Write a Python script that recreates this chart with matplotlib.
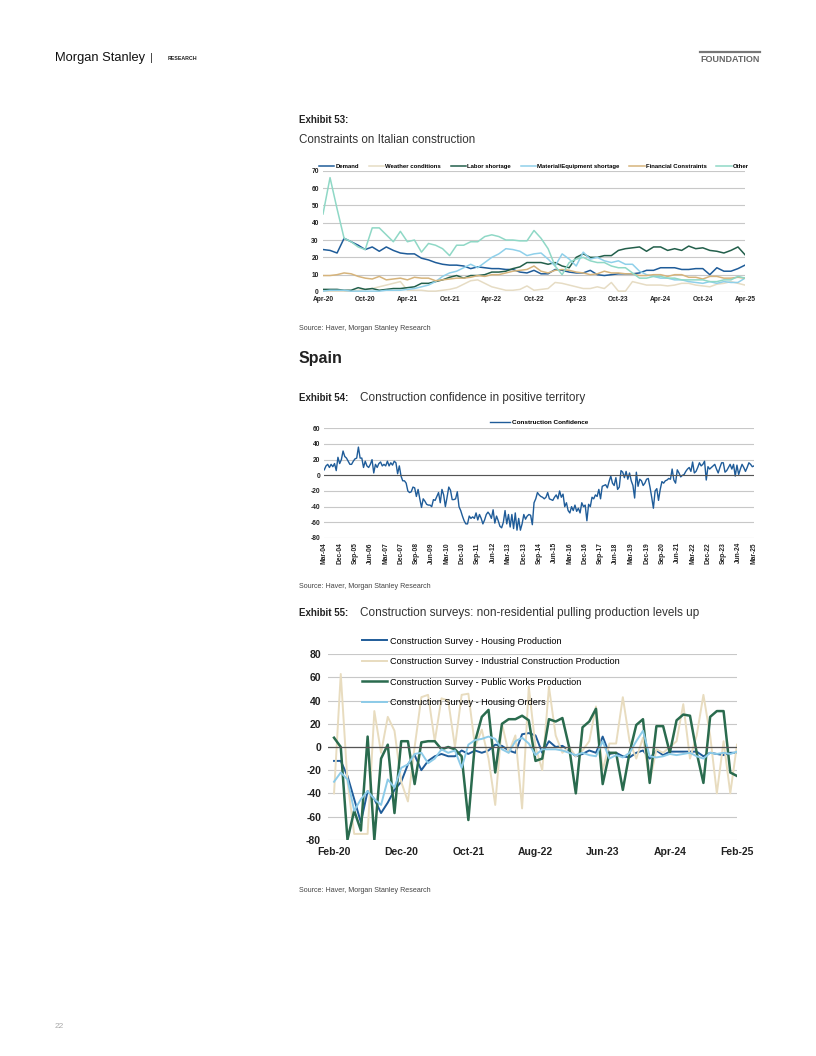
import numpy as np
import matplotlib
matplotlib.use("Agg")
import matplotlib.pyplot as plt

plt.rcParams['font.family'] = ['Liberation Sans', 'DejaVu Sans']
plt.rcParams['axes.unicode_minus'] = False

# ---------------- Exhibit 53: Italian construction constraints (monthly Apr-20 .. Apr-25)
it_ticks = ["Apr-20", "Oct-20", "Apr-21", "Oct-21", "Apr-22", "Oct-22",
            "Apr-23", "Oct-23", "Apr-24", "Oct-24", "Apr-25"]
demand = [24.5, 24, 22.5, 31, 29, 27, 24.5, 26, 23.5, 26, 24, 22.5, 22, 22, 19.5, 18.5,
          17, 16, 15.5, 15.5, 15, 13.5, 14.5, 14, 13.5, 13.5, 13, 13, 11.5, 11, 12.5,
          10.5, 10.5, 13, 12.5, 11.5, 11, 11, 12.5, 10, 9.5, 10, 10.5, 10.5, 10.5, 11,
          12.5, 12.5, 14, 14, 14, 13, 13, 13.5, 13.5, 10, 14, 12, 12, 13.5, 15.5]
weather = [0.5, 0.5, 0.5, 0.5, 0.5, 1, 1.5, 2, 3, 4, 5, 6, 1, 1, 1, 0.5, 0.5, 1, 1.5,
           2.5, 4.5, 6.5, 7, 5, 3, 2, 1, 1, 1.5, 3.5, 1, 1.5, 2, 5.5, 5, 4, 3, 2, 2, 3,
           2, 5.5, 0.5, 0.5, 6, 5, 4, 4, 4, 3.5, 4, 5, 5, 4, 3.5, 3, 4.5, 5, 6, 5, 4]
labor = [1.5, 1.5, 1.5, 1, 1, 2.5, 1.5, 2, 1, 1.5, 2, 2, 2.5, 3, 5, 5, 6, 7, 8.5,
         9.5, 8, 9.5, 9.5, 10, 11.5, 11.5, 12, 13.5, 14.5, 17, 17, 17, 16, 17, 15, 14,
         20, 22, 20, 20, 21, 21, 24, 25, 25.5, 26, 23.5, 26, 26, 24, 25, 24, 26.5, 25,
         25.5, 24, 23.5, 22.5, 24, 26, 21.5]
material = [0.5, 1, 1, 1, 0.5, 0.5, 0.5, 0.5, 0.5, 1, 1, 1, 1.5, 2, 3, 4, 6, 9, 11,
            12, 14, 16, 14, 17, 20, 22, 25, 24.5, 23.5, 21, 22, 22.5, 19, 15, 22, 19,
            15, 23, 19, 20, 18, 17, 18, 16, 16, 12, 10, 9, 8, 8, 7, 7, 6, 5.5, 5, 6, 5,
            6, 5.5, 5.5, 8]
financial = [9.5, 9.5, 10, 11, 10.5, 9, 8, 7.5, 9, 7, 7.5, 8, 7, 8.5, 8, 8, 6.5, 7,
             7.5, 8, 8, 8.5, 9.5, 9, 10, 10, 11, 12, 12.5, 13, 15, 12, 11, 12.5, 13,
             12.5, 11.5, 11, 10, 10.5, 12, 11, 11, 10.5, 10.5, 9.5, 9.5, 10, 10, 9, 10,
             10, 8.5, 8.5, 7.5, 9, 9, 8, 8, 8.5, 8]
other = [45, 66, 48, 31, 29, 26, 24.5, 37, 37, 33, 29, 35, 29, 30, 23, 28, 27, 25, 21,
         27, 27, 29, 29, 32, 33, 32, 30, 30, 29.5, 29.5, 35.5, 31, 25, 15, 10, 17, 19,
         20, 18, 17, 17, 15, 14, 14, 11, 8, 8, 9, 9, 8, 8, 7, 7, 7, 7, 6, 6, 7, 7, 9, 8]
it_series = [("Demand", demand, "#1f5c99"),
             ("Weather conditions", weather, "#e6dcc4"),
             ("Labor shortage", labor, "#235f4b"),
             ("Material/Equipment shortage", material, "#8fd0ea"),
             ("Financial Constraints", financial, "#d6b47c"),
             ("Other", other, "#8fd8c6")]

# ---------------- Exhibit 54: Spain construction confidence (monthly Mar-04 .. Mar-25)
es_ticks = ["Mar-04", "Dec-04", "Sep-05", "Jun-06", "Mar-07", "Dec-07", "Sep-08", "Jun-09",
            "Mar-10", "Dec-10", "Sep-11", "Jun-12", "Mar-13", "Dec-13", "Sep-14", "Jun-15",
            "Mar-16", "Dec-16", "Sep-17", "Jun-18", "Mar-19", "Dec-19", "Sep-20", "Jun-21",
            "Mar-22", "Dec-22", "Sep-23", "Jun-24", "Mar-25"]
confidence = (
    [7, 12, 14, 10, 14, 11, 15, 6, 23, 15] +                          # 2004
    [20, 31, 24, 22, 18, 14, 14, 18, 21, 22, 36, 22] +                # 2005
    [22, 10, 18, 12, 10, 14, 20, 3, 14, 10, 15, 17] +                 # 2006
    [12, 14, 12, 18, 12, 16, 13, 18, 16, 2, 12, -1] +                 # 2007
    [-7, -7, -10, -20, -22, -21, -15, -16, -27, -18, -30, -41] +      # 2008
    [-30, -33, -37, -38, -38, -40, -31, -32, -27, -22, -35, -18] +    # 2009
    [-25, -40, -28, -15, -19, -31, -31, -30, -21, -40, -45, -52] +    # 2010
    [-58, -62, -62, -52, -55, -53, -55, -48, -57, -50, -55, -62] +    # 2011
    [-57, -50, -47, -50, -55, -44, -61, -52, -58, -65, -67, -60] +    # 2012
    [-45, -62, -50, -66, -50, -68, -48, -70, -55, -70, -62, -50] +    # 2013
    [-56, -52, -50, -51, -63, -35, -30, -22, -25, -27, -28, -30] +    # 2014
    [-28, -22, -30, -31, -32, -28, -25, -30, -20, -28, -24, -40] +    # 2015
    [-35, -45, -48, -40, -45, -38, -46, -42, -48, -35, -40, -38] +    # 2016
    [-58, -37, -40, -28, -30, -25, -27, -18, -30, -14, -13, -12] +    # 2017
    [-16, -8, -1, -10, -13, -3, -18, -15, 6, 4, -3, 5] +              # 2018
    [-5, 3, -7, -13, -29, 4, -14, -5, -7, -13, -10, -5] +             # 2019
    [-4, -15, -28, -42, -20, -17, -32, -18, -8, -10, -7, -6] +        # 2020
    [-4, -5, 8, -6, -10, 7, 3, -2, 0, 1, 5, 8] +                      # 2021
    [10, 5, 17, 3, 5, 10, 16, 12, 14, 18, -6, 11] +                   # 2022
    [8, 10, 12, 14, 8, 3, 10, 16, 16, 4, 6, 10] +                     # 2023
    [14, 8, 14, -1, 13, 1, 8, 14, 10, 5, 10, 16] +                    # 2024
    [14, 11, 12]                                                      # 2025
)

# ---------------- Exhibit 55: Spain construction surveys (monthly Feb-20 .. Feb-25)
sv_ticks = ["Feb-20", "Dec-20", "Oct-21", "Aug-22", "Jun-23", "Apr-24", "Feb-25"]
housing_prod = [-12, -12, -25, -45, -65, -38, -45, -57, -48, -37, -30, -15, -7, -20, -12,
                -8, -6, -8, -8, -3, -6, -3, -5, -3, 2, 1, -3, -5, 11, 12, 10, -5, 5, 0,
                1, -3, -8, -6, -3, -5, 9, -6, -5, -8, -9, -5, -3, -10, -3, -7, -4, -4,
                -4, -4, -4, -8, -5, -6, -7, -5, -5]
industrial = [-40, 63, -30, -75, -75, -75, 31, -5, 26, 14, -30, -47, 0, 43, 45, 5, 42,
              40, 0, 45, 46, 0, 15, -10, -50, 20, -5, 10, -53, 52, 0, -20, 52, 10, -5,
              0, -8, -3, 5, 35, -20, 3, 3, 43, 5, -10, 8, -30, -2, -5, 0, 5, 37, -10,
              10, 45, 10, -40, 5, -40, 2]
public_works = [8, 0, -80, -55, -72, 9, -80, -10, 2, -57, 5, 5, -32, 4, 5, 5, -2, 0,
                -2, -8, -63, 5, 26, 32, -22, 20, 24, 24, 27, 23, -12, -10, 24, 22, 25, 0,
                -40, 17, 22, 33, -32, -5, -5, -37, -5, 19, 24, -31, 18, 18, -5, 23, 28,
                27, -5, -31, 26, 31, 31, -22, -25]
housing_orders = [-30, -22, -28, -55, -45, -38, -45, -50, -28, -35, -18, -15, -6, -5,
                  -14, -10, -2, -5, -3, -18, 2, 6, 7, 9, 7, -2, -5, 5, 8, 3, -7, -2, -2,
                  -2, -3, -5, -7, -5, -7, -8, 5, -10, -7, -9, -5, 5, 14, -8, -9, -8, -6,
                  -7, -6, -5, -8, -10, -5, -6, -5, -6, -4]
sv_series = [("Construction Survey - Housing Production", housing_prod, "#1f5c99", 1.4),
             ("Construction Survey - Industrial Construction Production", industrial, "#e8dcbf", 1.4),
             ("Construction Survey - Public Works Production", public_works, "#2a6b4e", 1.8),
             ("Construction Survey - Housing Orders", housing_orders, "#8ccbe8", 1.4)]

GRID = "#c8c8c8"
ZERO = "#555555"
TXT = "#222222"

fig = plt.figure(figsize=(8.16, 10.56), dpi=100)
W, H = 816.0, 1056.0


def axes_px(x0, y0, x1, y1):
    # pixel box (left, top, right, bottom) -> figure axes
    return fig.add_axes([x0 / W, 1 - y1 / H, (x1 - x0) / W, (y1 - y0) / H])


def style(ax):
    for s in ax.spines.values():
        s.set_visible(False)
    ax.tick_params(length=0, colors=TXT)
    ax.set_axisbelow(True)


def source(y):
    fig.text(299 / W, 1 - y / H, "Source: Haver, Morgan Stanley Research", fontsize=5.1,
             color="#444444", va="center")


# page header
fig.text(55 / W, 1 - 58 / H, "Morgan Stanley", fontsize=9.3, color="#111111", va="center")
fig.text(150 / W, 1 - 58 / H, "|", fontsize=8, color="#333333", va="center")
fig.text(168 / W, 1 - 58 / H, "RESEARCH", fontsize=3.8, color="#222222", va="center",
         fontweight="bold")
fig.add_artist(plt.Line2D([700 / W, 760 / W], [1 - 52 / H, 1 - 52 / H], color="#777777",
                          lw=1.6))
fig.text(760 / W, 1 - 60 / H, "FOUNDATION", fontsize=6.5, color="#666666", va="center",
         ha="right", fontweight="bold")
fig.text(55 / W, 1 - 1027 / H, "22", fontsize=6, color="#aaaaaa", va="center")

# ---------- Exhibit 53
fig.text(299 / W, 1 - 120 / H, "Exhibit 53:", fontsize=7, fontweight="bold", color=TXT,
         va="center")
fig.text(299 / W, 1 - 140 / H, "Constraints on Italian construction", fontsize=8.4,
         color="#333333", va="center")

ax1 = axes_px(323, 170.7, 745, 292)
style(ax1)
x1 = np.arange(len(demand))
for name, vals, col in it_series:
    ax1.plot(x1, vals, color=col, lw=1.1, label=name)
ax1.set_xlim(0, len(demand) - 1)
ax1.set_ylim(0, 70)
ax1.set_yticks(range(0, 71, 10))
ax1.set_xticks(np.arange(0, len(demand), 6))
ax1.set_xticklabels(it_ticks)
ax1.yaxis.grid(True, color=GRID, lw=0.8)
ax1.axhline(0, color="#999999", lw=0.8)
ax1.tick_params(labelsize=4.8, pad=3)
for lab in ax1.get_xticklabels() + ax1.get_yticklabels():
    lab.set_fontweight("bold")
ax1.legend(loc="lower center", bbox_to_anchor=(0.5, 0.99), ncol=6, frameon=False,
           handlelength=2.6, handletextpad=0.2, columnspacing=1.6,
           borderaxespad=0.1, prop={"weight": "bold", "size": 4.3})

source(329)

fig.text(299 / W, 1 - 358 / H, "Spain", fontsize=11.5, fontweight="bold", color="#222222",
         va="center")

# ---------- Exhibit 54
fig.text(299 / W, 1 - 398 / H, "Exhibit 54:", fontsize=7, fontweight="bold", color=TXT,
         va="center")
fig.text(360 / W, 1 - 398 / H, "Construction confidence in positive territory",
         fontsize=8.5, color="#333333", va="center")

ax2 = axes_px(324.3, 428.3, 754, 538)
style(ax2)
x2 = np.arange(len(confidence))
ax2.plot(x2, confidence, color="#1f5c99", lw=1.0, label="Construction Confidence")
ax2.set_xlim(0, len(confidence) - 1)
ax2.set_ylim(-80, 60)
ax2.set_yticks(range(-80, 61, 20))
ax2.set_xticks(np.arange(0, len(confidence), 9))
ax2.set_xticklabels(es_ticks, rotation=90)
ax2.yaxis.grid(True, color=GRID, lw=0.8)
ax2.axhline(0, color=ZERO, lw=0.8)
ax2.tick_params(labelsize=4.8, pad=3)
for lab in ax2.get_xticklabels() + ax2.get_yticklabels():
    lab.set_fontweight("bold")
ax2.legend(loc="lower center", bbox_to_anchor=(0.5, 1.0), frameon=False,
           handlelength=3.2, handletextpad=0.3, borderaxespad=0.1,
           prop={"weight": "bold", "size": 4.6})

source(587)

# ---------- Exhibit 55
fig.text(299 / W, 1 - 613 / H, "Exhibit 55:", fontsize=7, fontweight="bold", color=TXT,
         va="center")
fig.text(360 / W, 1 - 613 / H,
         "Construction surveys: non-residential pulling production levels up",
         fontsize=8.5, color="#333333", va="center")

ax3 = axes_px(328, 654.3, 737, 839.7)
style(ax3)
x3 = np.arange(len(housing_prod))
for name, vals, col, lw in sv_series:
    ax3.plot(x3, vals, color=col, lw=lw, label=name)
ax3.set_xlim(-0.9, len(housing_prod) - 1)
ax3.set_ylim(-80, 80)
ax3.set_yticks(range(-80, 81, 20))
ax3.set_xticks(np.arange(0, len(housing_prod), 10))
ax3.set_xticklabels(sv_ticks)
ax3.yaxis.grid(True, color=GRID, lw=0.8)
ax3.axhline(0, color=ZERO, lw=0.9)
ax3.tick_params(labelsize=7.5, pad=5)
for lab in ax3.get_xticklabels() + ax3.get_yticklabels():
    lab.set_fontweight("bold")
ax3.legend(loc="upper left", bbox_to_anchor=(0.075, 1.115), frameon=False,
           handlelength=2.7, handletextpad=0.3, labelspacing=1.25, borderaxespad=0,
           prop={"size": 6.6})

source(890)

fig.savefig("out.png", dpi=100)
